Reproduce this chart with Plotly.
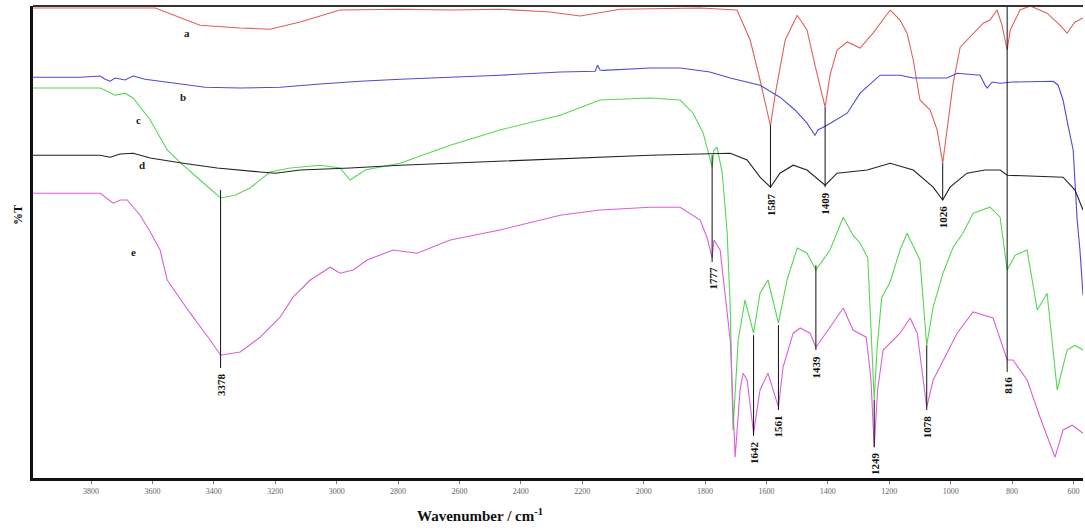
import plotly.graph_objects as go

# ---- spectra (wavenumber, %T offset-stacked) ----
a_wn = [3989, 3591, 3445, 3314, 3217, 3119, 2989, 2793, 2630, 2468, 2305, 2207, 2077, 1816, 1696, 1653, 1621, 1587, 1572, 1539, 1500, 1468, 1442, 1409, 1393, 1370, 1337, 1295, 1253, 1197, 1165, 1142, 1122, 1100, 1067, 1044, 1026, 1008, 992, 969, 927, 894, 872, 849, 833, 816, 806, 774, 741, 686, 644, 621, 595, 569]
a_T = [117.5, 117.5, 113.2, 112.5, 112.2, 114, 117, 117.2, 117, 117.2, 116.5, 115.5, 117.2, 117.5, 117, 109.5, 99.5, 88, 95.7, 109.5, 115.7, 112, 103.2, 92.7, 100.7, 107, 109, 107.5, 111.2, 117, 114.5, 111.2, 104.5, 94.5, 92, 87, 78.7, 89.5, 98.7, 107.7, 111.2, 113.7, 114.5, 117, 113.2, 107, 112, 117, 118, 116.2, 113.2, 111.2, 114, 115]

b_wn = [3989, 3835, 3770, 3754, 3738, 3721, 3689, 3663, 3624, 3575, 3510, 3428, 3314, 3184, 3054, 2923, 2793, 2630, 2468, 2272, 2158, 2150, 2142, 2130, 1979, 1881, 1784, 1718, 1621, 1556, 1507, 1468, 1442, 1432, 1403, 1337, 1295, 1230, 1165, 1122, 1012, 979, 904, 888, 881, 865, 839, 797, 666, 650, 634, 618, 601, 588, 579, 569]
b_T = [100.2, 100.2, 100.5, 99.7, 99.2, 100, 99.5, 100.5, 99.7, 99.2, 98.5, 97.7, 97.5, 97.7, 98.5, 99.2, 99.7, 100.2, 100.7, 101.5, 101.7, 103.2, 102, 101.9, 102.5, 102.5, 101.5, 100, 98.2, 95.2, 92, 88.7, 85.7, 87, 88.2, 91.2, 96.2, 100.7, 100.7, 100, 100, 101.2, 100.7, 98.2, 97.5, 99, 98.7, 99, 99.2, 98.2, 94.5, 88.2, 82, 64.5, 57, 45.7]

c_wn = [3989, 3770, 3721, 3689, 3663, 3607, 3552, 3500, 3445, 3389, 3378, 3331, 3282, 3217, 3151, 3054, 2989, 2956, 2907, 2793, 2630, 2468, 2272, 2142, 1979, 1881, 1839, 1806, 1777, 1771, 1761, 1744, 1728, 1718, 1709, 1692, 1670, 1642, 1621, 1595, 1561, 1533, 1500, 1468, 1439, 1393, 1350, 1318, 1295, 1270, 1259, 1249, 1240, 1225, 1197, 1165, 1142, 1100, 1078, 1057, 1025, 992, 960, 927, 872, 839, 816, 790, 751, 718, 686, 653, 621, 595, 569]
c_T = [97.5, 97.5, 95.7, 96.2, 95, 89.5, 82, 78.2, 74.5, 70.7, 70, 70.7, 72.5, 76.5, 77.5, 78.2, 77.5, 74.5, 77, 78.7, 83.2, 87, 90.7, 94.5, 95, 94.5, 91.2, 86.2, 77.7, 82, 82.7, 76.2, 61.2, 42.7, 12, 34.5, 44.5, 36.2, 46.2, 49.5, 38.7, 49.5, 57.5, 56.2, 52, 57, 65.2, 60.7, 58.7, 55, 38, 19.5, 32, 45, 49, 57, 61.2, 54.5, 33.2, 42.7, 51.2, 57.7, 61.2, 66.2, 67.7, 65.2, 52, 55.7, 57, 42, 46.2, 22, 32, 33.2, 32]

d_wn = [3989, 3901, 3770, 3738, 3705, 3663, 3607, 3500, 3389, 3249, 3200, 3119, 2956, 2793, 2468, 2142, 1979, 1816, 1718, 1663, 1621, 1587, 1556, 1513, 1468, 1409, 1370, 1272, 1197, 1122, 1057, 1026, 1002, 947, 888, 839, 816, 634, 595, 569]
d_T = [80.7, 80.7, 80.7, 80.2, 81, 81.2, 80, 78.7, 77.5, 76.5, 76.2, 77, 77.5, 78.2, 79.2, 80.2, 80.7, 81, 81.2, 79.5, 75.2, 72.7, 76.2, 78.2, 77, 73.2, 76.2, 77, 78.7, 77, 72.7, 69.5, 72.7, 76.2, 77, 77, 75.7, 75.2, 72, 67]

e_wn = [3989, 3770, 3728, 3705, 3682, 3640, 3607, 3575, 3552, 3477, 3412, 3378, 3314, 3249, 3184, 3142, 3086, 3021, 2989, 2946, 2901, 2816, 2738, 2630, 2468, 2272, 2142, 1979, 1881, 1816, 1793, 1777, 1771, 1751, 1718, 1702, 1686, 1676, 1663, 1642, 1621, 1595, 1561, 1546, 1513, 1490, 1458, 1439, 1393, 1350, 1318, 1275, 1260, 1249, 1238, 1220, 1165, 1132, 1109, 1078, 1057, 1012, 979, 927, 862, 816, 797, 751, 709, 660, 634, 604, 569]
e_T = [71.2, 71.2, 68.7, 69.5, 69.5, 65.7, 61.5, 57, 49.5, 41.2, 34.5, 30.7, 31.5, 35.2, 40.2, 45.2, 49.5, 52.7, 51.2, 52, 54.5, 57, 56.2, 59.5, 62, 65.7, 67, 67.7, 67.7, 64.5, 60, 55, 59.5, 57, 34.5, 5.2, 22, 26.2, 24.5, 11.2, 22, 26.2, 17.7, 27.7, 36.2, 37.5, 36.2, 32.7, 37.7, 42.5, 37, 35.2, 25, 7.7, 22, 32, 36.2, 40, 36.2, 17.7, 24.5, 31.2, 36.2, 41.5, 40, 29.5, 29.5, 24.5, 15.2, 5.2, 12, 13.2, 11.2]

# ---- peak markers ----
peak_wn = [3378, 1777, 1587, 1409, 1026, 1642, 1561, 1439, 1249, 1078, 816]
peak_top = [72, 80.7, 88.2, 92.7, 78.7, 35.7, 38.2, 53.2, 19.5, 33.2, 118]
peak_bot = [27.5, 54, 72.5, 72.7, 69.5, 10.5, 17, 32, 7.7, 17, 26.5]
peak_txt = ["3378", "1777", "1587", "1409", "1026", "1642", "1561", "1439", "1249", "1078", "816"]

# ---- curve labels ----
lab_txt = ["a", "b", "c", "d", "e"]
lab_wn = [3487, 3500, 3646, 3634, 3663]
lab_T = [111.2, 95.2, 89.5, 78.2, 56.5]

ticks = [3800, 3600, 3400, 3200, 3000, 2800, 2600, 2400, 2200, 2000, 1800, 1600, 1400, 1200, 1000, 800, 600]

series = [
    (a_wn, a_T, "#e0605c"),
    (b_wn, b_T, "#4b4bd6"),
    (c_wn, c_T, "#55d655"),
    (d_wn, d_T, "#222222"),
    (e_wn, e_T, "#d860d8"),
]

fig = go.Figure()
for name, (xw, yt, col) in zip(lab_txt, series):
    fig.add_trace(go.Scatter(x=xw, y=yt, mode="lines", name=name,
                             line=dict(color=col, width=1.1), hoverinfo="skip",
                             showlegend=False))

serif = "Liberation Serif, Times New Roman, serif"

for w, t0, t1, s in zip(peak_wn, peak_top, peak_bot, peak_txt):
    fig.add_shape(type="line", x0=w, x1=w, y0=t0, y1=t1, xref="x", yref="y",
                  line=dict(color="#111111", width=1))
    fig.add_annotation(x=w, y=t1, text="<b>%s</b>" % s, textangle=-90,
                       showarrow=False, xanchor="center", yanchor="top", yshift=-3,
                       font=dict(family=serif, size=11, color="#111111"))

for s, w, t in zip(lab_txt, lab_wn, lab_T):
    fig.add_annotation(x=w, y=t, text="<b>%s</b>" % s, showarrow=False,
                       font=dict(family=serif, size=11, color="#222222"))

fig.add_annotation(xref="paper", yref="paper", x=0.426, y=-0.078,
                   text="<b>Wavenumber / cm<sup>-1</sup></b>", showarrow=False,
                   xanchor="center", yanchor="middle",
                   font=dict(family=serif, size=15, color="#111111"))
fig.add_annotation(xref="paper", yref="paper", x=-0.0143, y=0.557,
                   text="<b>%T</b>", textangle=-90, showarrow=False,
                   xanchor="center", yanchor="middle",
                   font=dict(family=serif, size=12, color="#111111"))

fig.update_layout(
    width=1085, height=530,
    margin=dict(l=33, r=2, t=6, b=52),
    paper_bgcolor="white", plot_bgcolor="white",
    xaxis=dict(range=[3989, 569], tickvals=ticks, ticks="outside", ticklen=3,
               tickcolor="#777", showgrid=False, zeroline=False,
               showline=True, linecolor="#111", linewidth=3, mirror=False,
               tickfont=dict(family=serif, size=8, color="#666")),
    yaxis=dict(range=[0, 118], showticklabels=False, ticks="", showgrid=False,
               zeroline=False, showline=True, linecolor="#111", linewidth=3),
)
fig.add_shape(type="line", xref="paper", yref="paper", x0=0, x1=1, y0=1, y1=1,
              line=dict(color="#333", width=2))

fig.write_html("out.html")
